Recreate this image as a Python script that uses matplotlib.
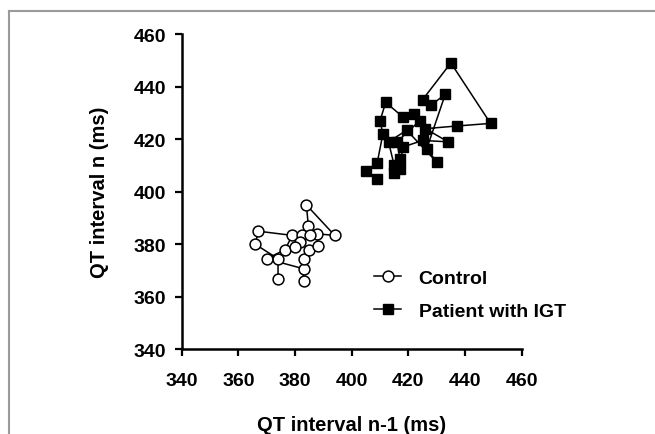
import matplotlib
matplotlib.use('Agg')
import matplotlib.pyplot as plt
from matplotlib.lines import Line2D

# QT interval Poincare plot: (n-1, n) pairs in recording order
control_x = [374, 374, 366, 367, 379, 376.5, 370, 383, 383, 383, 385, 388, 387.7, 394, 384, 384.7, 382.4, 381.8, 385.3, 380]
control_y = [367, 374.5, 380, 385, 383.4, 378, 374.5, 370.7, 366, 374.5, 378, 379.5, 384, 383.4, 395, 387, 383.4, 380.8, 383.4, 379]

igt_x = [409, 405, 409, 411, 410, 412, 418, 422, 424, 416, 417, 417, 418, 425, 434, 426, 437, 449, 435, 425, 428, 433, 426.5, 430, 419.4, 413, 415, 415]
igt_y = [405, 408, 411, 422, 427, 434, 428.5, 429.7, 427, 419, 412.6, 408.8, 417, 419.5, 419, 424, 425, 426, 449, 435, 433, 437, 416.4, 411.3, 423.4, 419, 410, 407]

ticks = [340, 360, 380, 400, 420, 440, 460]

plt.rcParams['font.family'] = ['Liberation Sans', 'DejaVu Sans']
plt.rcParams['font.weight'] = 'bold'

fig = plt.figure(figsize=(6.55, 4.35), dpi=100)
ax = fig.add_axes([0.2774, 0.1943, 0.5191, 0.7252])

ax.plot(control_x, control_y, color='black', lw=1.1, marker='o', ms=7.8,
        mfc='white', mec='black', mew=1.1, label='Control')
ax.plot(igt_x, igt_y, color='black', lw=1.1, marker='s', ms=7.2,
        mfc='black', mec='black', label='Patient with IGT')

ax.set_xlim(340, 460)
ax.set_ylim(340, 460)
ax.set_xticks(ticks)
ax.set_yticks(ticks)
ax.tick_params(labelsize=14, width=1.6, length=5, direction='out')
ax.tick_params(axis='x', pad=11)
ax.tick_params(axis='y', pad=6)
for s in ['top', 'right']:
    ax.spines[s].set_visible(False)
for s in ['left', 'bottom']:
    ax.spines[s].set_linewidth(1.8)

ax.set_xlabel('QT interval n-1 (ms)', fontsize=14.5, fontweight='bold', labelpad=19)
ax.set_ylabel('QT interval n (ms)', fontsize=14.5, fontweight='bold', labelpad=18)

ax.legend(loc='upper left', bbox_to_anchor=(374 / 655, 1 - 270 / 435),
          bbox_transform=fig.transFigure, frameon=False, fontsize=14,
          borderpad=0, borderaxespad=0, handlelength=1.4, handletextpad=0.9,
          labelspacing=0.8)

# grey frame around the figure (top and left edges visible)
fig.add_artist(Line2D([9 / 655, 1], [1 - 12 / 435, 1 - 12 / 435], color='#9a9a9a', lw=1.5))
fig.add_artist(Line2D([9 / 655, 9 / 655], [0, 1 - 12 / 435], color='#9a9a9a', lw=1.5))

fig.savefig('out.png', dpi=100)
